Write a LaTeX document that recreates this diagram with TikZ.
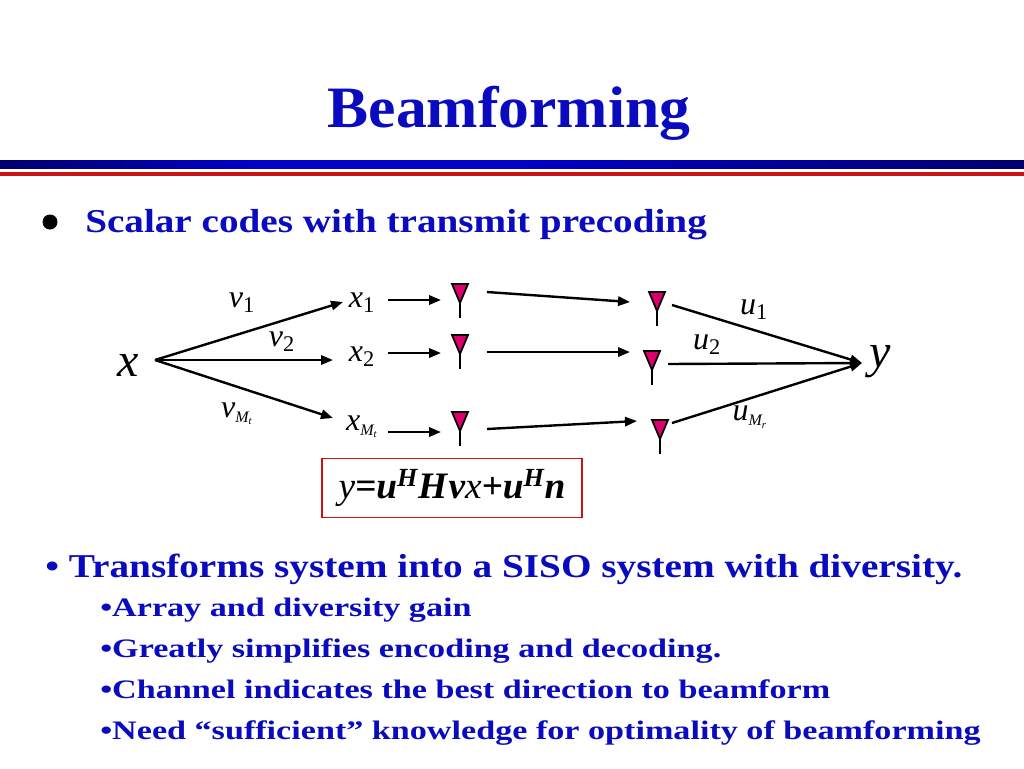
\documentclass[tikz,border=0pt]{standalone}
\usepackage{fontspec}
\usepackage{graphicx}
\setmainfont{Liberation Serif}
\usetikzlibrary{arrows.meta}
\definecolor{tblue}{RGB}{10,10,190}
\definecolor{navy}{RGB}{0,0,110}
\definecolor{mblue}{RGB}{0,0,200}
\definecolor{rbar}{RGB}{200,20,20}
\definecolor{mag}{RGB}{220,0,110}
\begin{document}
\begin{tikzpicture}[x=0.75pt,y=-0.75pt,
  arr/.style={-{Triangle[length=9pt,width=7pt]},line width=1.8pt},
  lab/.style={font=\fontsize{24}{26}\selectfont\itshape,inner sep=0},
  body/.style={text=tblue,font=\bfseries,anchor=base west,inner sep=0}]
\useasboundingbox (0,0) rectangle (1024,768);
\node[text=tblue,font=\fontsize{44}{48}\selectfont\bfseries] (title) at (509,113) {\scalebox{1.05}[1]{Beamforming}};
\shade[left color=navy,right color=mblue,middle color=mblue] (0,160) rectangle (512,168);
\shade[left color=mblue,right color=navy] (512,160) rectangle (1024,168);
\fill[rbar] (0,172) rectangle (1024,176);
\fill[black] (50,222) circle (7.5);
\node[body,font=\fontsize{25}{28}\selectfont\bfseries] (b1) at (85,232) {\scalebox{1.175}[1]{Scalar codes with transmit precoding}};
% labels
\node[lab,font=\fontsize{36}{38}\selectfont\itshape] (x) at (128,365) {x};
\node[lab,font=\fontsize{36}{38}\selectfont\itshape] (y) at (880,362) {y};
\coordinate (xs) at (155,360);
\node[lab] (x1) at (362,303) {x\textsubscript{\upshape 1}};
\node[lab] (x2) at (362,357) {x\textsubscript{\upshape 2}};
\node[lab] (xm) at (362,427) {x\textsubscript{\fontsize{12}{13}\selectfont M\textsubscript{t}}};
\node[lab] at (242,303) {v\textsubscript{\upshape 1}};
\node[lab] at (282,342) {v\textsubscript{\upshape 2}};
\node[lab] at (237,414) {v\textsubscript{\fontsize{12}{13}\selectfont M\textsubscript{t}}};
\node[lab] at (754,310) {u\textsubscript{\upshape 1}};
\node[lab] at (707,345) {u\textsubscript{\upshape 2}};
\node[lab] at (750,417) {u\textsubscript{\fontsize{12}{13}\selectfont M\textsubscript{r}}};
\draw[arr] (xs) -- (343,302);
\draw[arr] (xs) -- (333,360);
\draw[arr] (xs) -- (333,418);
% antennas
\foreach \n/\ax/\ay in {t1/460/284,t2/460/335,t3/460/412,r1/657/292,r2/652/351,r3/660/420}{
  \coordinate (\n) at (\ax,\ay);
  \draw[line width=1.5pt] (\ax,\ay+8) -- (\ax,\ay+34);
  \filldraw[fill=mag,draw=black,line width=1.3pt] (\ax-8,\ay) -- (\ax+8,\ay) -- (\ax,\ay+19) -- cycle;
}
\draw[arr] (388,300) -- (441,300);
\draw[arr] (388,353) -- (441,353);
\draw[arr] (388,432) -- (441,432);
\draw[arr] (487,292) -- (630,302);
\draw[arr] (487,352) -- (630,352);
\draw[arr] (487,429) -- (637,421);
\coordinate (ys) at (862,363);
\draw[arr] (672,305) -- (ys);
\draw[arr] (668,364) -- (ys);
\draw[arr] (672,423) -- (ys);
% equation
\node[draw=rbar,line width=0.8pt,minimum width=195pt,minimum height=44pt,inner sep=0] (eq) at (452,488)
 {\fontsize{28}{30}\selectfont\itshape y\bfseries=u\textsuperscript{H}H\kern1pt v\mdseries x\bfseries+u\textsuperscript{H}n};
\node[body,font=\fontsize{25}{28}\selectfont\bfseries] at (45,577) {\scalebox{1.178}[1]{\textbullet\ Transforms system into a SISO system with diversity.}};
\foreach \t/\yy in {Array and diversity gain/616, Greatly simplifies encoding and decoding./657, Channel indicates the best direction to beamform/698, Need “sufficient” knowledge for optimality of\ beamforming/739}{
  \node[body,font=\fontsize{20}{22}\selectfont\bfseries] at (100,\yy) {\scalebox{1.28}[1]{\textbullet\t}};
}
\end{tikzpicture}
\end{document}
